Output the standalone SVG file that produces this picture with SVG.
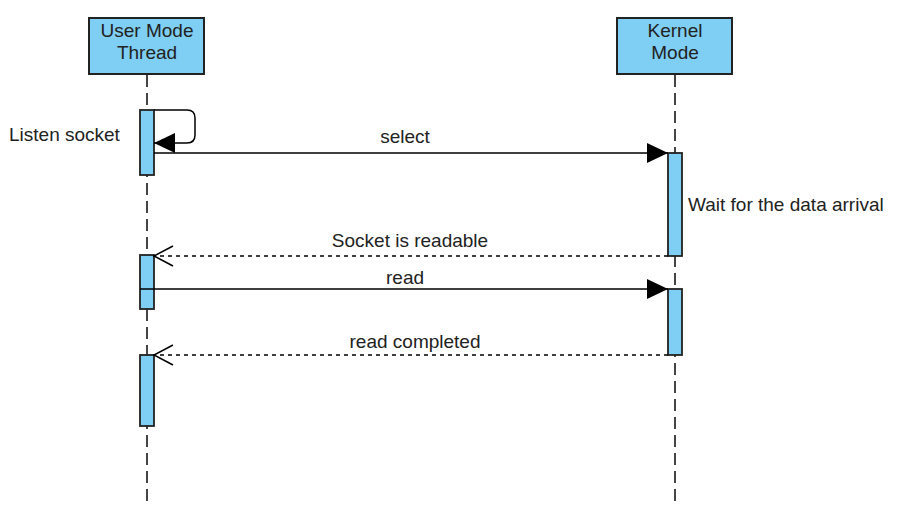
<svg xmlns="http://www.w3.org/2000/svg" width="900" height="516" viewBox="0 0 900 516">
<defs>
<style>
text{font-family:"Liberation Sans",Arial,sans-serif;font-size:19px;fill:#222}
.box{fill:#7fcef3;stroke:#222;stroke-width:2}
.act{fill:#7fcef3;stroke:#222;stroke-width:1.8}
.life{stroke:#444;stroke-width:2;stroke-dasharray:12 6;fill:none}
.msg{stroke:#000;stroke-width:1.5;fill:none}
.ret{stroke:#000;stroke-width:1.3;stroke-dasharray:4 4;fill:none}
.mid{text-anchor:middle}
</style>
<marker id="fill" markerUnits="userSpaceOnUse" markerWidth="22" markerHeight="22" refX="21" refY="10" orient="auto">
<path d="M0,0 L21,10 L0,20 z" fill="#000"/>
</marker>
<marker id="open" markerUnits="userSpaceOnUse" markerWidth="22" markerHeight="24" refX="20" refY="11" orient="auto">
<path d="M1,1 L20,11 L1,21" fill="none" stroke="#000" stroke-width="1.5"/>
</marker>
</defs>
<rect width="900" height="516" fill="#fff"/>
<g id="lifelines">
<line class="life" x1="147" y1="75" x2="147" y2="502"/>
<line class="life" x1="675" y1="75" x2="675" y2="502"/>
</g>
<g id="user">
<rect class="box" x="89" y="18" width="115" height="56"/>
<text class="mid" x="147" y="37">User Mode</text>
<text class="mid" x="147" y="59">Thread</text>
</g>
<g id="kernel">
<rect class="box" x="617" y="18" width="115" height="56"/>
<text class="mid" x="675" y="37">Kernel</text>
<text class="mid" x="675" y="59">Mode</text>
</g>
<g id="activations">
<rect class="act" x="140" y="110" width="14" height="65"/>
<rect class="act" x="668" y="153" width="14" height="103"/>
<rect class="act" x="140" y="255" width="14" height="54"/>
<rect class="act" x="668" y="289" width="14" height="66"/>
<rect class="act" x="140" y="355" width="14" height="71"/>
</g>
<g id="connectors">
<path class="msg" d="M154,110 H187 Q195,110 195,118 V135 Q195,143 187,143 H154" marker-end="url(#fill)"/>
<line class="msg" x1="154" y1="153" x2="668" y2="153" marker-end="url(#fill)"/>
<line class="ret" x1="668" y1="256" x2="154" y2="256" marker-end="url(#open)"/>
<line class="msg" x1="140" y1="289" x2="668" y2="289" marker-end="url(#fill)"/>
<line class="ret" x1="668" y1="355" x2="154" y2="355" marker-end="url(#open)"/>
</g>
<g id="labels">
<text x="9" y="141">Listen socket</text>
<text class="mid" x="405" y="143">select</text>
<text x="688" y="211">Wait for the data arrival</text>
<text class="mid" x="410" y="247">Socket is readable</text>
<text class="mid" x="405" y="284">read</text>
<text class="mid" x="415" y="348">read completed</text>
</g>
</svg>
